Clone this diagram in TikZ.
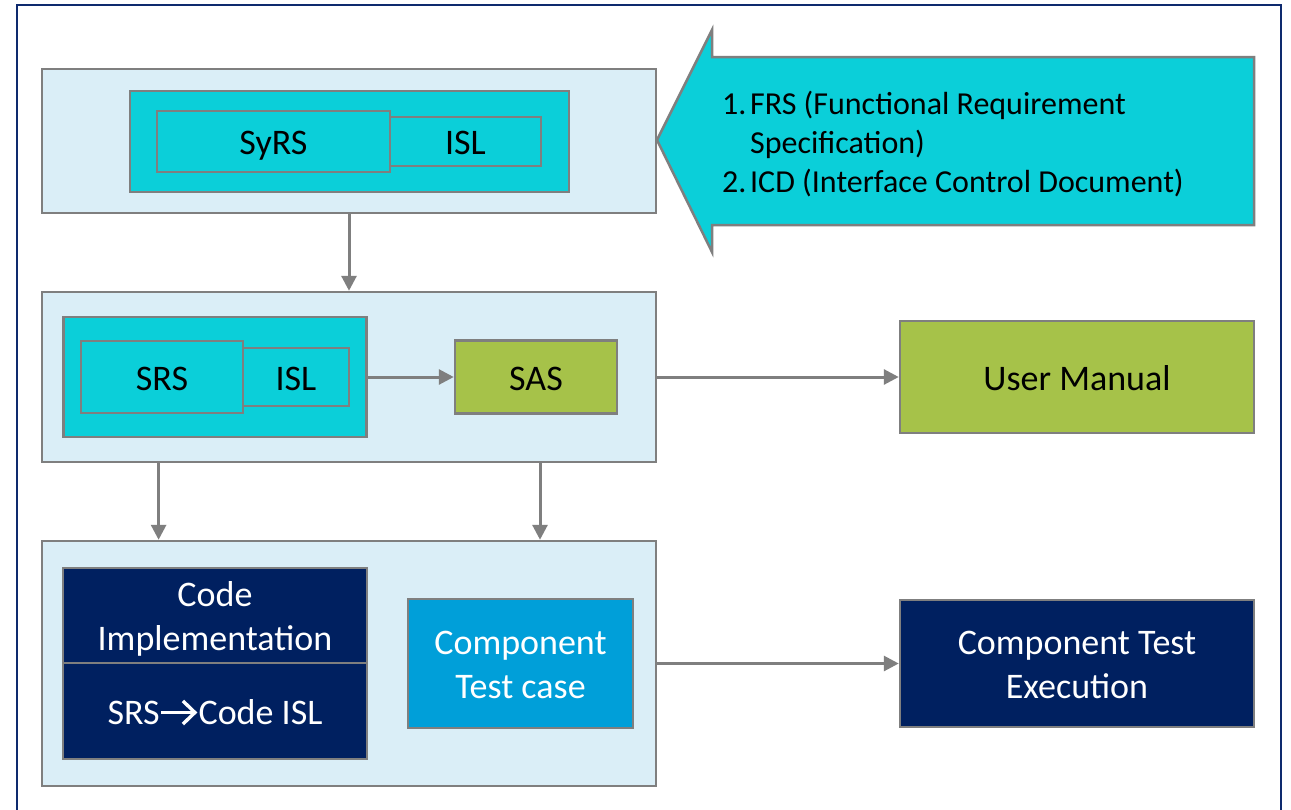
\documentclass[tikz,border=0pt]{standalone}
\usepackage{fontspec}
\setmainfont{Carlito}
\usetikzlibrary{arrows.meta}
\definecolor{lightbg}{HTML}{DAEEF7}
\definecolor{tealc}{HTML}{0BCFD9}
\definecolor{greenc}{HTML}{A6C249}
\definecolor{bluec}{HTML}{009FD9}
\definecolor{navyc}{HTML}{002060}
\definecolor{grayc}{HTML}{7F7F7F}
\definecolor{framec}{HTML}{0E2A6E}
\newcommand\tstr{\rule{0pt}{33.2pt}}
\newcommand\bstr{\rule[-7pt]{0pt}{7pt}}
\newcommand\wdarrow{\tikz[baseline=0pt,x=1pt,y=1pt]{\draw[white,line width=3.4pt] (0,11.6) -- (33,11.6);\draw[white,line width=3.4pt,line join=miter] (21.5,23.2) -- (33.5,11.6) -- (21.5,0);}}
\tikzset{
  box/.style={draw=grayc, line width=2.5pt, inner sep=0pt, font=\fontsize{36}{44}\selectfont, align=center},
  lightbox/.style={box, fill=lightbg},
  tealbox/.style={box, fill=tealc},
  greenbox/.style={box, fill=greenc},
  navybox/.style={box, fill=navyc, text=white},
  bluebox/.style={box, fill=bluec, text=white},
  conn/.style={draw=grayc, line width=3pt, -{Triangle[length=15pt,width=15pt]}},
}
\begin{document}
\begin{tikzpicture}[x=1pt,y=-1pt]
\useasboundingbox (0,0) rectangle (1291,809);
\fill[white] (0,0) rectangle (1291,809);
% outer frame
\draw[framec, line width=2pt] (17,830) -- (17,5) -- (1281,5) -- (1281,830);

% top group
\node[lightbox, minimum width=614pt, minimum height=144pt] (top) at (349,141) {};
\node[tealbox, minimum width=439pt, minimum height=101pt] (topteal) at (349.5,141.5) {};
\node[tealbox, minimum width=151pt, minimum height=49pt] (isla) at (465.5,141.5) {\tstr ISL\bstr};
\node[tealbox, minimum width=233pt, minimum height=61pt] (syrs) at (273.5,141.5) {\tstr SyRS\bstr};

% callout arrow
\draw[draw=grayc, line width=2.5pt, fill=tealc, line join=miter]
  (657,140) -- (712,30) -- (712,57) -- (1254,57) -- (1254,225) -- (712,225) -- (712,252) -- cycle;
\node[anchor=west, inner sep=0pt, align=left, font=\fontsize{32}{39}\selectfont] (callout) at (722,144)
  {\makebox[28pt][l]{1.}FRS (Functional Requirement\\\hspace*{28pt}Specification)\\\makebox[28pt][l]{2.}ICD (Interface Control Document)};

% middle group
\node[lightbox, minimum width=614pt, minimum height=170pt] (mid) at (349,377) {};
\node[tealbox, minimum width=303pt, minimum height=120pt] (midteal) at (215,377) {};
\node[tealbox, minimum width=106pt, minimum height=58pt] (islb) at (296,377) {\tstr ISL\bstr};
\node[tealbox, minimum width=162pt, minimum height=72pt] (srs) at (162,377) {\tstr SRS\bstr};
\node[greenbox, minimum width=162pt, minimum height=73pt] (sas) at (536,377) {\tstr SAS\bstr};
\node[greenbox, minimum width=354pt, minimum height=112pt] (um) at (1077,377) {\tstr User Manual\bstr};

% bottom group
\node[lightbox, minimum width=614pt, minimum height=245pt] (bot) at (349,663.5) {};
\node[navybox, minimum width=304pt, minimum height=95pt] (codeimpl) at (215,615.5) {\tstr Code\\Implementation\bstr};
\node[navybox, minimum width=304pt, minimum height=96pt] (codeisl) at (215,711) {\tstr SRS\wdarrow\kern2pt Code ISL\bstr};
\node[bluebox, minimum width=225pt, minimum height=129pt] (ctc) at (520.5,663.5) {\tstr Component\\Test case\bstr};
\node[navybox, minimum width=354pt, minimum height=127pt] (cte) at (1077,663.5) {\tstr Component Test\\Execution\bstr};

% connectors
\coordinate (d1) at (158.6,377);
\coordinate (d2) at (540,377);
\draw[conn] (top.south) -- (mid.north);
\draw[conn] (midteal.east) -- (sas.west);
\draw[conn] (mid.east) -- (um.west);
\draw[conn] (d1 |- mid.south) -- (d1 |- bot.north);
\draw[conn] (d2 |- mid.south) -- (d2 |- bot.north);
\draw[conn] (bot.east) -- (cte.west);
\end{tikzpicture}
\end{document}
